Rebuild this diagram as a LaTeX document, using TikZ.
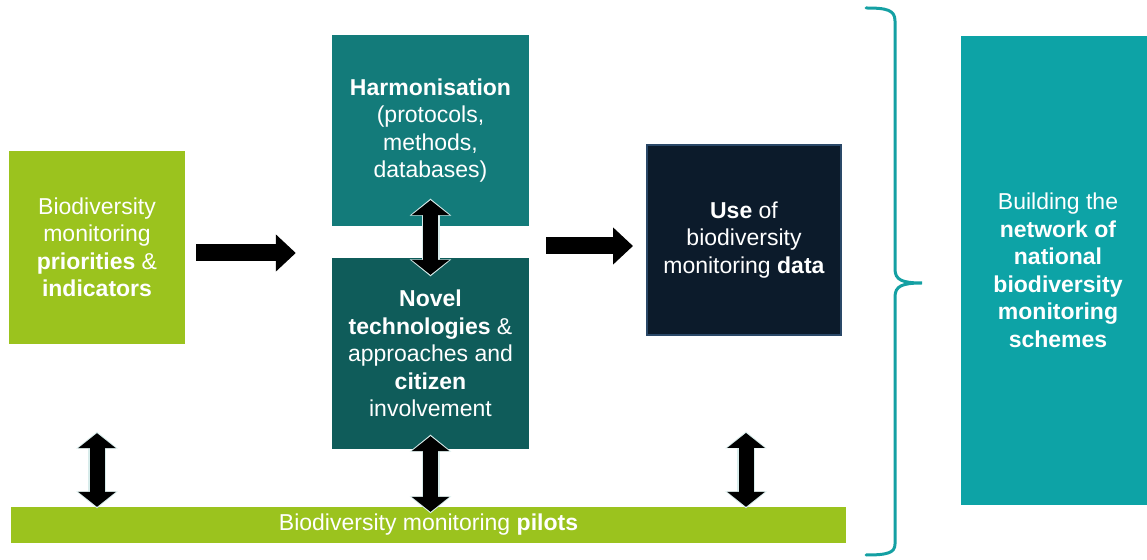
\documentclass[tikz,border=0pt]{standalone}
\usepackage{fontspec}
\setmainfont{Liberation Sans}
\usetikzlibrary{arrows.meta}

\definecolor{leafgreen}{HTML}{9BC31E}
\definecolor{harmteal}{HTML}{137B7A}
\definecolor{novelteal}{HTML}{0F5C5A}
\definecolor{usenavy}{HTML}{0C1B2B}
\definecolor{useedge}{HTML}{2A4868}
\definecolor{netteal}{HTML}{0DA3A6}
\definecolor{braceteal}{HTML}{14A0A3}
\definecolor{arrowrim}{HTML}{D8ECEB}

\begin{document}
\begin{tikzpicture}[x=1pt,y=1pt,>=Stealth,
    box/.style={inner sep=0pt, align=center, text=white, font=\fontsize{23}{27.5}\selectfont},
    fatarrow/.style={line width=17pt, -{Triangle[length=20pt,width=36pt]}},
    dblarrow/.style={line width=15pt, {Triangle[length=15pt,width=37pt]}-{Triangle[length=15pt,width=37pt]},
      preaction={draw=arrowrim, line width=18pt, {Triangle[length=17pt,width=41pt]}-{Triangle[length=17pt,width=41pt]},
        shorten <=-1.5pt, shorten >=-1.5pt}}]
\useasboundingbox (0,0) rectangle (1147,559);

% boxes
\node[box, fill=leafgreen, minimum width=176pt, minimum height=193pt] (prio) at (97,311.5)
  {Biodiversity\\monitoring\\\textbf{priorities} \&\\\textbf{indicators}};
\node[box, fill=harmteal, minimum width=197pt, minimum height=191pt] (harm) at (430.5,428.5)
  {\textbf{Harmonisation}\\(protocols,\\methods,\\databases)};
\node[box, fill=novelteal, minimum width=197pt, minimum height=191pt] (novel) at (430.5,205.5)
  {\textbf{Novel}\\\textbf{technologies} \&\\approaches and\\\textbf{citizen}\\involvement};
\node[box, fill=usenavy, draw=useedge, line width=2pt, minimum width=194pt, minimum height=190pt] (use) at (744,319)
  {\textbf{Use} of\\biodiversity\\monitoring \textbf{data}};
\node[box, fill=netteal, minimum width=194pt, minimum height=469pt] (net) at (1058,288.5)
  {Building the\\\textbf{network of}\\\textbf{national}\\\textbf{biodiversity}\\\textbf{monitoring}\\\textbf{schemes}};
\node[box, fill=leafgreen, minimum width=835pt, minimum height=36pt] (pilots) at (428.5,34)
  {Biodiversity monitoring \textbf{pilots}};

% arrows
\draw[fatarrow] ([xshift=11pt,yshift=-5.5pt]prio.east) -- ([xshift=-36pt,yshift=-5.5pt]prio.east -| novel.west);
\draw[fatarrow] ([xshift=17pt,yshift=-6pt]novel.east |- use.west) -- ([xshift=-13pt,yshift=-6pt]use.west);
\draw[dblarrow] ([yshift=26pt]harm.south) -- ([yshift=-17pt]novel.north);
\draw[dblarrow] ([yshift=-89pt]prio.south) -- (prio.south |- pilots.north);
\draw[dblarrow] ([yshift=13pt]novel.south) -- ([yshift=-5pt]novel.south |- pilots.north);
\draw[dblarrow] ([xshift=2pt,yshift=-97pt]use.south) -- ([xshift=2pt]use.south |- pilots.north);

% brace
\draw[braceteal, line width=3pt, line cap=round]
  (866,551) .. controls (887,551) and (895,549) .. (895,538)
  -- (895,290)
  .. controls (895,279) and (902,276) .. (922,276)
  .. controls (902,276) and (895,273) .. (895,262)
  -- (895,15)
  .. controls (895,6) and (887,4) .. (866,4);
\end{tikzpicture}
\end{document}
